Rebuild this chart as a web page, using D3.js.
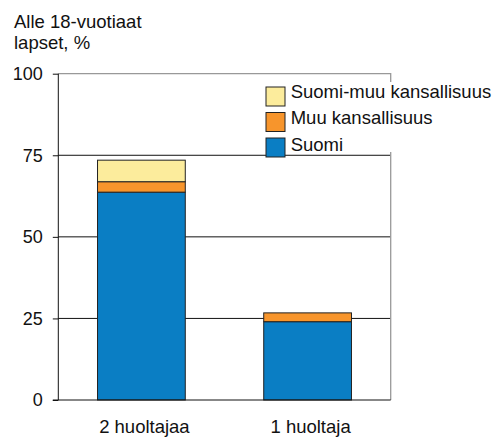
<!DOCTYPE html>
<html>
<head>
<meta charset="utf-8">
<script src="https://cdn.jsdelivr.net/npm/d3@7"></script>
<style>
	body { margin: 0; background: #fff; }
	text { font-family: "Liberation Sans", Arial, sans-serif; fill: #111; }
</style>
</head>
<body>
<div id="chart"></div>
<script>
// data
const categories = ["2 huoltajaa", "1 huoltaja"];
const suomi = [63.7, 24.0];
const muuKansallisuus = [3.2, 2.7];
const suomiMuu = [6.6, 0];
const seriesNames = ["Suomi", "Muu kansallisuus", "Suomi-muu kansallisuus"];
const seriesColors = ["#0a7ec4", "#f7952c", "#fcec9c"];
const yTicks = [0, 25, 50, 75, 100];
const titleLines = ["Alle 18-vuotiaat", "lapset, %"];

const width = 495, height = 437;
const margin = { top: 73.7, right: 104.3, bottom: 37, left: 58.3 };

const svg = d3.select("#chart").append("svg")
	.attr("width", width)
	.attr("height", height);

// table for stack
const table = categories.map((c, i) => ({
	cat: c,
	"Suomi": suomi[i],
	"Muu kansallisuus": muuKansallisuus[i],
	"Suomi-muu kansallisuus": suomiMuu[i]
}));
const stacked = d3.stack().keys(seriesNames)(table);

const x = d3.scaleBand()
	.domain(categories)
	.range([margin.left, width - margin.right])
	.paddingInner(0.472)
	.paddingOuter(0.236);

const y = d3.scaleLinear()
	.domain([0, 100])
	.range([height - margin.bottom, margin.top]);

const color = d3.scaleOrdinal().domain(seriesNames).range(seriesColors);

// title
svg.append("text")
	.attr("x", 14)
	.attr("y", 27.5)
	.style("font-size", "18.5px")
	.selectAll("tspan")
	.data(titleLines)
	.enter().append("tspan")
	.attr("x", 14)
	.attr("dy", (d, i) => i === 0 ? 0 : 21.5)
	.text(d => d);

// grid lines
svg.selectAll(".grid")
	.data(yTicks.filter(t => t > 0 && t < 100))
	.enter().append("line")
	.attr("x1", margin.left)
	.attr("x2", width - margin.right)
	.attr("y1", d => y(d))
	.attr("y2", d => y(d))
	.attr("stroke", "#111")
	.attr("stroke-width", 1);

// frame top + right (grey)
svg.append("path")
	.attr("d", `M${margin.left},${y(100)}H${width - margin.right}V${y(0)}`)
	.attr("fill", "none")
	.attr("stroke", "#999")
	.attr("stroke-width", 1.3);

// bars
svg.selectAll(".series")
	.data(stacked)
	.enter().append("g")
	.attr("fill", d => color(d.key))
	.selectAll("rect")
	.data(d => d.filter(s => s[1] - s[0] > 0))
	.enter().append("rect")
	.attr("x", d => x(d.data.cat))
	.attr("width", x.bandwidth())
	.attr("y", d => y(d[1]))
	.attr("height", d => y(d[0]) - y(d[1]))
	.attr("stroke", "#222")
	.attr("stroke-width", 1);

// y axis
const yAxis = svg.append("g")
	.attr("transform", `translate(${margin.left},0)`)
	.call(d3.axisLeft(y).tickValues(yTicks).tickSize(5.5).tickPadding(10));
yAxis.select(".domain").attr("stroke", "#111").attr("d", `M0,${y(100)}V${y(0)}`);
yAxis.selectAll("line").attr("stroke", "#111");
yAxis.selectAll("text")
	.style("font-size", "18px")
	.attr("fill", "#111")
	.style("font-family", '"Liberation Sans", Arial, sans-serif');

// x axis baseline
svg.append("line")
	.attr("x1", margin.left - 5.5)
	.attr("x2", width - margin.right)
	.attr("y1", y(0))
	.attr("y2", y(0))
	.attr("stroke", "#111")
	.attr("stroke-width", 1);

// category labels
svg.selectAll(".cat")
	.data(categories)
	.enter().append("text")
	.attr("x", d => x(d) + x.bandwidth() / 2 + 3)
	.attr("y", 432.5)
	.attr("text-anchor", "middle")
	.style("font-size", "18.5px")
	.text(d => d);

// legend
const legendItems = seriesNames.slice().reverse();
svg.append("rect")
	.attr("x", 287)
	.attr("y", 82)
	.attr("width", 208)
	.attr("height", 70)
	.attr("fill", "#fff");

const legend = svg.selectAll(".legend")
	.data(legendItems)
	.enter().append("g")
	.attr("transform", (d, i) => `translate(266,${87 + i * 25.5})`);

legend.append("rect")
	.attr("width", 19)
	.attr("height", 19)
	.attr("fill", d => color(d))
	.attr("stroke", "#222")
	.attr("stroke-width", 1);

legend.append("text")
	.attr("x", 24.7)
	.attr("y", (d, i) => 10.5 + i * 1)
	.style("font-size", "18.5px")
	.text(d => d);
</script>
</body>
</html>
